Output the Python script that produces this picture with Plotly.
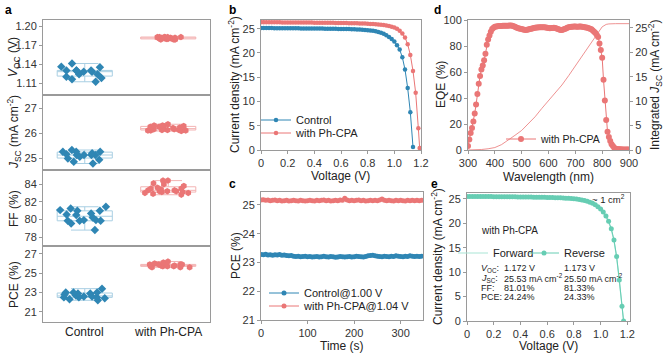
import plotly.graph_objects as go

# ---------------- data ----------------
groups = ["Control", "with Ph-CPA"]

voc_control = [1.130, 1.130, 1.136, 1.141, 1.135, 1.124, 1.120, 1.118, 1.112, 1.124, 1.116, 1.130, 1.128, 1.130, 1.128]
voc_phcpa = [1.183, 1.183, 1.183, 1.182, 1.183, 1.181, 1.180, 1.179, 1.180, 1.179, 1.180, 1.179, 1.180, 1.181, 1.183, 1.182, 1.182, 1.182, 1.183, 1.182]
jsc_control = [25.12, 25.19, 25.25, 25.05, 24.85, 25.25, 25.12, 24.93, 24.78, 25.32, 25.12, 24.98, 25.25, 25.12, 25.15]
jsc_phcpa = [26.35, 26.08, 26.28, 26.10, 26.30, 26.12, 26.25, 26.15, 26.30, 26.10, 26.22, 26.12, 26.28, 26.15, 26.20, 26.10, 26.25, 26.15, 26.22, 26.12]
ff_control = [80.98, 81.44, 80.57, 79.55, 79.93, 81.06, 80.50, 79.85, 78.80, 81.25, 79.93, 79.85, 80.98, 80.69, 79.85, 80.23]
ff_phcpa = [84.4, 84.4, 84.1, 83.8, 83.6, 83.5, 83.4, 83.3, 83.2, 83.1, 83.0, 83.0, 82.9, 82.8, 83.3, 83.2, 83.1, 83.5, 84.0, 83.2]
pce_control = [22.8, 22.6, 22.2, 23.4, 22.5, 22.5, 23.0, 22.5, 22.9, 23.0, 23.0, 22.6, 22.4, 22.7, 22.9, 22.3]
pce_phcpa = [25.7, 25.6, 25.8, 25.7, 25.8, 25.9, 25.8, 25.7, 25.6, 26.0, 25.9, 26.1, 26.2, 25.9, 26.0, 25.8, 25.9, 25.7, 25.6, 25.7]

# panel b: J-V curves
v_control = [0.00, 0.02, 0.04, 0.06, 0.08, 0.10, 0.12, 0.14, 0.16, 0.18, 0.20, 0.22, 0.24, 0.26, 0.28, 0.30,
             0.32, 0.34, 0.36, 0.38, 0.40, 0.42, 0.44, 0.46, 0.48, 0.50, 0.52, 0.54, 0.56, 0.58, 0.60, 0.62,
             0.64, 0.66, 0.68, 0.70, 0.72, 0.74, 0.76, 0.78, 0.80, 0.82, 0.84, 0.86, 0.88, 0.90, 0.92, 0.94,
             0.96, 0.98, 1.00, 1.02, 1.04, 1.06, 1.08, 1.10, 1.12, 1.14]
j_control = [25.15, 25.14, 25.14, 25.13, 25.13, 25.12, 25.12, 25.11, 25.11, 25.10, 25.10, 25.09, 25.09, 25.08, 25.08, 25.07,
             25.07, 25.06, 25.06, 25.05, 25.05, 25.04, 25.03, 25.03, 25.02, 25.01, 25.00, 24.99, 24.98, 24.97, 24.96, 24.95,
             24.93, 24.92, 24.90, 24.88, 24.86, 24.83, 24.80, 24.76, 24.71, 24.65, 24.57, 24.47, 24.34, 24.17, 23.95, 23.67,
             23.32, 22.88, 22.35, 21.60, 20.70, 19.10, 16.60, 12.80, 7.80, 0.60]
v_phcpa = [0.00, 0.02, 0.04, 0.06, 0.08, 0.10, 0.12, 0.14, 0.16, 0.18, 0.20, 0.22, 0.24, 0.26, 0.28, 0.30,
           0.32, 0.34, 0.36, 0.38, 0.40, 0.42, 0.44, 0.46, 0.48, 0.50, 0.52, 0.54, 0.56, 0.58, 0.60, 0.62,
           0.64, 0.66, 0.68, 0.70, 0.72, 0.74, 0.76, 0.78, 0.80, 0.82, 0.84, 0.86, 0.88, 0.90, 0.92, 0.94,
           0.96, 0.98, 1.00, 1.02, 1.04, 1.06, 1.08, 1.10, 1.12, 1.14, 1.16, 1.18, 1.19]
j_phcpa = [26.35, 26.35, 26.34, 26.34, 26.33, 26.33, 26.32, 26.32, 26.31, 26.31, 26.30, 26.30, 26.29, 26.29, 26.28, 26.28,
           26.27, 26.27, 26.26, 26.26, 26.25, 26.25, 26.24, 26.23, 26.23, 26.22, 26.21, 26.21, 26.20, 26.19, 26.18, 26.17,
           26.16, 26.15, 26.14, 26.13, 26.11, 26.10, 26.08, 26.06, 26.03, 26.00, 25.97, 25.93, 25.88, 25.82, 25.75, 25.66,
           25.55, 25.42, 25.25, 25.00, 24.60, 24.00, 23.20, 21.80, 19.60, 16.30, 11.80, 4.50, 0.40]

# panel c: stabilized power output
time_s = list(range(0, 350, 5))
pce_t_control = [23.28, 23.27, 23.29, 23.26, 23.27, 23.25, 23.27, 23.26, 23.28, 23.25,
                 23.26, 23.24, 23.23, 23.24, 23.22, 23.21, 23.22, 23.20, 23.21, 23.22,
                 23.20, 23.21, 23.19, 23.20, 23.21, 23.19, 23.20, 23.22, 23.20, 23.19,
                 23.21, 23.20, 23.18, 23.19, 23.21, 23.20, 23.19, 23.20, 23.21, 23.19,
                 23.20, 23.22, 23.21, 23.20, 23.19, 23.21, 23.23, 23.24, 23.25, 23.23,
                 23.22, 23.21, 23.20, 23.22, 23.21, 23.20, 23.22, 23.21, 23.23, 23.22,
                 23.21, 23.20, 23.22, 23.21, 23.23, 23.22, 23.21, 23.22, 23.21, 23.22]
pce_t_phcpa = [25.17, 25.18, 25.16, 25.17, 25.15, 25.16, 25.17, 25.15, 25.16, 25.14,
               25.15, 25.16, 25.14, 25.15, 25.16, 25.15, 25.14, 25.16, 25.15, 25.14,
               25.15, 25.16, 25.15, 25.14, 25.16, 25.15, 25.16, 25.17, 25.15, 25.16,
               25.14, 25.15, 25.16, 25.15, 25.17, 25.16, 25.23, 25.17, 25.15, 25.16,
               25.15, 25.16, 25.17, 25.15, 25.16, 25.14, 25.15, 25.16, 25.15, 25.16,
               25.15, 25.17, 25.21, 25.16, 25.15, 25.16, 25.15, 25.14, 25.16, 25.15,
               25.16, 25.15, 25.14, 25.16, 25.15, 25.16, 25.15, 25.16, 25.15, 25.16]

# panel d: EQE and integrated Jsc
wavelength = list(range(300, 905, 5))
eqe = [3, 8, 13, 17, 22, 28, 35, 43, 51, 57, 62, 65, 69, 74, 81, 85, 88, 91, 93, 94,
       94.8, 95.0, 95.2, 95.3, 95.4, 95.4, 95.5, 95.5, 95.6, 95.5, 95.6, 95.7, 95.8, 95.5, 95.2, 94.8, 94.3, 93.8, 93.5, 93.2,
       93.0, 92.7, 92.5, 92.4, 92.5, 92.7, 93.0, 93.2, 93.5, 93.8, 94.0, 94.2, 94.3, 94.4, 94.4, 94.5, 94.5, 94.4, 94.2, 94.0,
       93.8, 93.7, 93.8, 93.9, 94.0, 93.8, 93.5, 93.1, 92.7, 92.4, 92.3, 92.6, 93.0, 93.5, 94.0, 94.4, 94.6, 94.8, 94.9, 95.0,
       95.0, 94.9, 94.9, 95.0, 95.0, 94.9, 94.7, 94.5, 94.3, 94.0, 93.7, 93.3, 92.8, 92.0, 91.0, 90.0, 88.5, 87.0, 82.0, 77.0,
       71.0, 54.0, 38.0, 23.0, 14.0, 10.0, 7.0, 4.5, 3.0, 1.8, 1.0, 0.7, 0.6, 0.5, 0.5, 0.4, 0.4, 0.4, 0.3, 0.3,
       0.3]
wavelength_int = [300, 325, 350, 375, 400, 425, 450, 475, 500, 525, 550, 575, 600, 625, 650, 675, 700, 725, 750, 775, 800, 815, 825, 850, 875, 900]
jsc_integrated = [0, 0.02, 0.1, 0.25, 0.5, 1.1, 2.0, 3.0, 4.0, 5.3, 6.8, 8.5, 10.1, 11.7, 13.3, 15.2, 17.2, 19.2, 21.3, 23.4, 25.2, 25.7, 25.8, 25.85, 25.85, 25.85]

# panel e: forward / reverse scans
v_scan = [0.00, 0.02, 0.04, 0.06, 0.08, 0.10, 0.12, 0.14, 0.16, 0.18, 0.20, 0.22, 0.24, 0.26, 0.28, 0.30,
          0.32, 0.34, 0.36, 0.38, 0.40, 0.42, 0.44, 0.46, 0.48, 0.50, 0.52, 0.54, 0.56, 0.58, 0.60, 0.62,
          0.64, 0.66, 0.68, 0.70, 0.72, 0.74, 0.76, 0.78, 0.80, 0.82, 0.84, 0.86, 0.88, 0.90, 0.92, 0.94,
          0.96, 0.98, 1.00, 1.02, 1.04, 1.06, 1.08, 1.10, 1.12, 1.14, 1.16, 1.172]
j_reverse = [25.50, 25.50, 25.49, 25.49, 25.48, 25.48, 25.47, 25.47, 25.46, 25.46, 25.45, 25.45, 25.44, 25.44, 25.43, 25.43,
             25.42, 25.42, 25.41, 25.40, 25.40, 25.39, 25.38, 25.37, 25.36, 25.35, 25.34, 25.33, 25.32, 25.31, 25.30, 25.28,
             25.27, 25.25, 25.23, 25.21, 25.18, 25.15, 25.11, 25.07, 25.02, 24.96, 24.88, 24.79, 24.67, 24.52, 24.33, 24.08,
             23.77, 23.38, 22.90, 22.30, 21.50, 20.40, 18.90, 16.60, 13.20, 8.40, 3.00, 0.00]
j_forward = [25.53, 25.53, 25.52, 25.52, 25.51, 25.51, 25.50, 25.50, 25.49, 25.49, 25.48, 25.48, 25.47, 25.46, 25.46, 25.45,
             25.44, 25.44, 25.43, 25.42, 25.41, 25.40, 25.39, 25.38, 25.37, 25.36, 25.35, 25.33, 25.32, 25.30, 25.29, 25.27,
             25.25, 25.23, 25.21, 25.18, 25.15, 25.12, 25.08, 25.03, 24.97, 24.90, 24.81, 24.71, 24.58, 24.42, 24.22, 23.96,
             23.64, 23.24, 22.74, 22.12, 21.30, 20.20, 18.70, 16.40, 13.00, 8.20, 2.80, 0.00]

volt_ticks = [0, 0.2, 0.4, 0.6, 0.8, 1.0, 1.2]
volt_tick_text = ["0", "0.2", "0.4", "0.6", "0.8", "1.0", "1.2"]

# ---------------- style ----------------
BLUE = "#2f86b4"
BLUE_L = "#a9cfe3"
RED = "#ea7676"
RED_L = "#f3b3b3"
TEAL = "#66cdb3"
TEAL_L = "#a9e6d6"
AXC = "#9a9a9a"
TXT = "#222222"
FONT = "Liberation Sans, Arial, sans-serif"

W, H = 664, 355


def px(x):
    return x / W


def py(y):
    return 1 - y / H


fig = go.Figure()

# ---------------- panel a ----------------
rows = [
    ("y", "x", voc_control, voc_phcpa),
    ("y2", "x2", jsc_control, jsc_phcpa),
    ("y3", "x3", ff_control, ff_phcpa),
    ("y4", "x4", pce_control, pce_phcpa),
]
for yax, xax, ctrl, ph in rows:
    fig.add_trace(go.Box(
        x=[groups[0]] * len(ctrl), y=ctrl, xaxis=xax, yaxis=yax,
        boxpoints="all", jitter=1, pointpos=0, width=0.66, whiskerwidth=0.5,
        fillcolor="rgba(0,0,0,0)", line=dict(color=BLUE_L, width=1),
        marker=dict(symbol="diamond", size=6.5, color=BLUE, line=dict(width=0)),
        showlegend=False, hoverinfo="y"))
    fig.add_trace(go.Box(
        x=[groups[1]] * len(ph), y=ph, xaxis=xax, yaxis=yax,
        boxpoints="all", jitter=1, pointpos=0, width=0.66, whiskerwidth=0.5,
        fillcolor="rgba(0,0,0,0)", line=dict(color=RED_L, width=1),
        marker=dict(symbol="hexagon", size=6.5, color=RED, line=dict(width=0)),
        showlegend=False, hoverinfo="y"))

# ---------------- panel b ----------------
fig.add_trace(go.Scatter(x=v_control, y=j_control, xaxis="x5", yaxis="y5", mode="lines+markers",
                         name="Control", line=dict(color=BLUE, width=1),
                         marker=dict(size=4.5, color=BLUE), legend="legend"))
fig.add_trace(go.Scatter(x=v_phcpa, y=j_phcpa, xaxis="x5", yaxis="y5", mode="lines+markers",
                         name="with Ph-CPA", line=dict(color=RED, width=1),
                         marker=dict(size=4.5, color=RED), legend="legend2"))

# ---------------- panel c ----------------
fig.add_trace(go.Scatter(x=time_s, y=pce_t_control, xaxis="x6", yaxis="y6", mode="lines+markers",
                         name="Control@1.00 V", line=dict(color=BLUE, width=1),
                         marker=dict(size=5, color=BLUE), legend="legend3"))
fig.add_trace(go.Scatter(x=time_s, y=pce_t_phcpa, xaxis="x6", yaxis="y6", mode="lines+markers",
                         name="with Ph-CPA@1.04 V", line=dict(color=RED, width=1),
                         marker=dict(size=5, color=RED), legend="legend4"))

# ---------------- panel d ----------------
fig.add_trace(go.Scatter(x=wavelength_int, y=jsc_integrated, xaxis="x7", yaxis="y8", mode="lines",
                         line=dict(color=RED, width=0.8), showlegend=False))
fig.add_trace(go.Scatter(x=wavelength, y=eqe, xaxis="x7", yaxis="y7", mode="lines+markers",
                         name="with Ph-CPA", line=dict(color=RED, width=1),
                         marker=dict(size=6, color=RED), legend="legend5"))

# ---------------- panel e ----------------
fig.add_trace(go.Scatter(x=v_scan, y=j_forward, xaxis="x8", yaxis="y9", mode="lines",
                         name="Forward", line=dict(color=TEAL_L, width=1.2), legend="legend6"))
fig.add_trace(go.Scatter(x=v_scan, y=j_reverse, xaxis="x8", yaxis="y9", mode="lines+markers",
                         name="Reverse", line=dict(color=TEAL, width=1),
                         marker=dict(size=5, color=TEAL), legend="legend7"))

# ---------------- axes ----------------
tickfont = dict(family=FONT, size=11, color="#333333")


def axstyle(**kw):
    d = dict(showline=True, linecolor=AXC, linewidth=1, mirror=True, ticks="outside",
             ticklen=3, tickcolor=AXC, tickfont=tickfont, showgrid=False, zeroline=False,
             automargin=False)
    d.update(kw)
    return d


a_x = [px(43), px(210)]
a_rows = [(20, 95), (95, 170), (170, 246), (246, 322)]
a_ranges = [[1.091, 1.21], [24.52, 27.52], [77.0, 85.6], [19.96, 27.8]]
a_ticks = [[1.11, 1.14, 1.17, 1.20], [25, 26, 27], [78, 80, 82, 84], [21, 23, 25, 27]]
a_ticktext = [["1.11", "1.14", "1.17", "1.20"], ["25", "26", "27"], ["78", "80", "82", "84"], ["21", "23", "25", "27"]]

layout = dict(
    width=W, height=H, margin=dict(l=0, r=0, t=0, b=0, autoexpand=False),
    paper_bgcolor="white", plot_bgcolor="white",
    font=dict(family=FONT, size=11, color=TXT),
    boxmode="overlay",
)
for i in range(4):
    xn = "xaxis" if i == 0 else f"xaxis{i + 1}"
    yn = "yaxis" if i == 0 else f"yaxis{i + 1}"
    yid = "y" if i == 0 else f"y{i + 1}"
    top, bot = a_rows[i]
    layout[xn] = axstyle(domain=a_x, anchor=yid, type="category", categoryorder="array",
                         categoryarray=groups, range=[-0.5, 1.5], ticks="", showticklabels=False)
    if i > 0:
        layout[xn]["matches"] = "x"
    layout[yn] = axstyle(domain=[py(bot), py(top)], anchor="x" if i == 0 else f"x{i + 1}",
                         range=a_ranges[i], tickvals=a_ticks[i], ticktext=a_ticktext[i])

# b
layout["xaxis5"] = axstyle(domain=[px(261), px(421)], anchor="y5", range=[0, 1.2],
                           tickvals=volt_ticks, ticktext=volt_tick_text)
layout["yaxis5"] = axstyle(domain=[py(150), py(20)], anchor="x5", range=[0, 26.8], dtick=5)
# c
layout["xaxis6"] = axstyle(domain=[px(261), px(423)], anchor="y6", range=[0, 348], dtick=100)
layout["yaxis6"] = axstyle(domain=[py(320), py(192)], anchor="x6", range=[21, 25.45], dtick=1)
# d
layout["xaxis7"] = axstyle(domain=[px(468), px(629)], anchor="y7", range=[300, 900], dtick=100)
layout["yaxis7"] = axstyle(domain=[py(150), py(20)], anchor="x7", range=[0, 100], dtick=20, mirror=False)
layout["yaxis8"] = axstyle(anchor="x7", overlaying="y7", side="right", range=[0, 26.6], dtick=5, mirror=False)
# e
layout["xaxis8"] = axstyle(domain=[px(467), px(630)], anchor="y9", range=[0, 1.22],
                           tickvals=volt_ticks, ticktext=volt_tick_text)
layout["yaxis9"] = axstyle(domain=[py(321), py(193)], anchor="x8", range=[0, 26.2], dtick=5)

# single-entry legends placed individually (x = text start - 40 px)
leg_specs = [
    ("legend", 296, 120, 11),
    ("legend2", 296, 133, 11),
    ("legend3", 304, 293, 11),
    ("legend4", 304, 306, 11),
    ("legend5", 541, 139, 10.5),
    ("legend6", 493, 253, 11),
    ("legend7", 564, 253, 11),
]
for name, tx, ty, fs in leg_specs:
    layout[name] = dict(x=px(tx - 40), y=py(ty), xanchor="left", yanchor="middle",
                        bgcolor="rgba(0,0,0,0)", borderwidth=0, itemwidth=30,
                        font=dict(family=FONT, size=fs, color=TXT))

fig.update_layout(**layout)

# ---------------- annotations ----------------
ann = []


def add_text(text, x, y, size=12, angle=0, xanchor="center", color=TXT, xref="paper"):
    ann.append(dict(text=text, x=(px(x) if xref == "paper" else x), y=py(y), xref=xref, yref="paper",
                    xanchor=xanchor, yanchor="middle", showarrow=False, textangle=angle,
                    font=dict(family=FONT, size=size, color=color)))


for lbl, x, y in [("a", 8, 10), ("b", 233, 10), ("c", 233, 184), ("d", 437, 10), ("e", 434, 184)]:
    add_text(f"<b>{lbl}</b>", x, y, size=12, color="#000000")

# axis titles
add_text("<i>V</i><sub>OC</sub> (V)", 14, 57, angle=-90)
add_text("<i>J</i><sub>SC</sub> (mA cm<sup>-2</sup>)", 14, 132, angle=-90)
add_text("FF (%)", 14, 208, angle=-90)
add_text("PCE (%)", 14, 284, angle=-90)
add_text(groups[0], groups[0], 332, xref="x4")
add_text(groups[1], groups[1], 332, xref="x4")

add_text("Current density (mA cm<sup>-2</sup>)", 234, 85, angle=-90)
add_text("Voltage (V)", 341, 176)
add_text("PCE (%)", 236, 256, angle=-90)
add_text("Time (s)", 342, 346)
add_text("EQE (%)", 441, 85, angle=-90)
add_text("Wavelength (nm)", 548, 177)
add_text("Integrated <i>J</i><sub>SC</sub> (mA cm<sup>-2</sup>)", 655, 85, angle=-90)
add_text("Current density (mA cm<sup>-2</sup>)", 437, 257, angle=-90)
add_text("Voltage (V)", 548, 346)

# panel e text block
e_rows = [
    ("<i>V</i><sub>OC</sub>:", "1.172 V", "1.173 V", 268),
    ("<i>J</i><sub>SC</sub>:", "25.53 mA cm<sup>-2</sup>", "25.50 mA cm<sup>-2</sup>", 278),
    ("FF:", "81.01%", "81.33%", 288),
    ("PCE:", "24.24%", "24.33%", 297),
]
add_text("with Ph-CPA", 479, 230, size=10, xanchor="left")
for label, v1, v2, y in e_rows:
    add_text(label, 479, y, size=9, xanchor="left")
    add_text(v1, 502, y, size=9, xanchor="left")
    add_text(v2, 562, y, size=9, xanchor="left")
add_text("~ 1 cm<sup>2</sup>", 627, 199, size=9.5, xanchor="right")

fig.update_layout(annotations=ann)

fig.write_html("out.html", config={"displayModeBar": False},
               post_script="document.body.style.margin='0';document.body.style.overflow='hidden';")
